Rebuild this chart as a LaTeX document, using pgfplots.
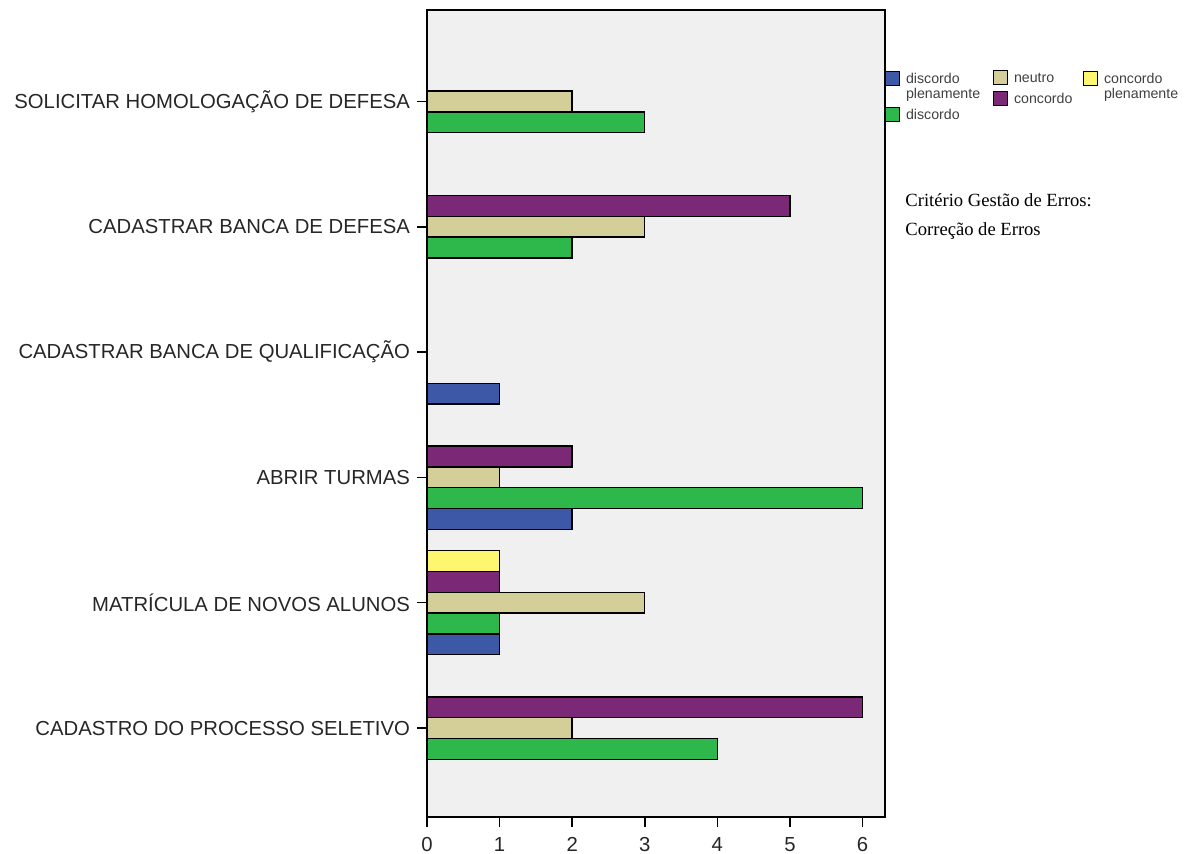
\documentclass[border=0pt]{standalone}
\usepackage{pgfplots}
\pgfplotsset{compat=1.18}
\usepackage{fontspec}
\setmainfont{Liberation Sans}
\newfontfamily\timesfont{Liberation Serif}
\definecolor{cdp}{HTML}{3E58A8}
\definecolor{cd}{HTML}{2EB84B}
\definecolor{cn}{HTML}{D4CE98}
\definecolor{cc}{HTML}{7B2877}
\definecolor{ccp}{HTML}{FDF66E}
\definecolor{bg}{HTML}{F0F0F0}
\pgfplotsset{
  legcol/.style={
    hide axis, scale only axis, width=1pt, height=1pt, anchor=north west,
    xmin=0, xmax=1, ymin=0, ymax=1,
    legend cell align=left,
    legend image code/.code={\draw[##1] (0pt,-2.6pt) rectangle (6.9pt,4.3pt);},
    legend style={at={(0,1)}, anchor=north west, draw=none, fill=none,
      inner sep=0pt, outer sep=0pt,
      font=\fontsize{7.1}{7}\selectfont, text=black!75,
      nodes={inner sep=0pt},
      /tikz/every odd column/.append style={column sep=3pt}},
  },
}
\newcommand{\two}[2]{\vtop{\baselineskip=7.1pt\hbox{#1}\hbox{#2}}}
\newcommand{\legitem}[4]{%
\begin{axis}[legcol, at={(#1pt,#2pt)}]
\addlegendimage{fill=#3, draw=black, line width=0.6pt}
\addlegendentry{#4}
\end{axis}}
\begin{document}
\begin{tikzpicture}[x=1pt,y=1pt]
\useasboundingbox (0,0) rectangle (596,427);
\begin{axis}[
  at={(213.5pt,18.5pt)}, anchor=south west,
  scale only axis, width=229pt, height=403.5pt,
  xbar, bar width=0.166,
  xmin=0, xmax=6.31, ymin=-0.71, ymax=5.73,
  axis background/.style={fill=bg},
  axis line style={line width=0.75pt},
  xtick={0,1,2,3,4,5,6},
  ytick={0,1,2,3,4,5},
  yticklabels={CADASTRO DO PROCESSO SELETIVO, MATRÍCULA DE NOVOS ALUNOS, ABRIR TURMAS, CADASTRAR BANCA DE QUALIFICAÇÃO, CADASTRAR BANCA DE DEFESA, SOLICITAR HOMOLOGAÇÃO DE DEFESA},
  tick style={black, line width=0.75pt},
  major tick length=5pt,
  xtick align=outside, ytick align=outside,
  xtick pos=bottom, ytick pos=left,
  tick label style={font=\fontsize{10.15}{12}\selectfont, text=black!85},
  xticklabel style={yshift=-1.5pt},
  /pgf/number format/assume math mode=true,
  every axis plot/.append style={draw=black, line width=0.7pt},
]
\addplot[fill=cdp, bar shift=-0.332] coordinates {(1,3) (2,2) (1,1)};
\addplot[fill=cd, bar shift=-0.166] coordinates {(3,5) (2,4) (6,2) (1,1) (4,0)};
\addplot[fill=cn, bar shift=0] coordinates {(2,5) (3,4) (1,2) (3,1) (2,0)};
\addplot[fill=cc, bar shift=0.166] coordinates {(5,4) (2,2) (1,1) (6,0)};
\addplot[fill=ccp, bar shift=0.332] coordinates {(1,1)};
\end{axis}
\legitem{442.5}{391.5}{cdp}{\two{discordo}{plenamente}}
\legitem{442.5}{373.5}{cd}{discordo}
\legitem{496.5}{392}{cn}{neutro}
\legitem{496.5}{381.5}{cc}{concordo}
\legitem{541.5}{391.5}{ccp}{\two{concordo}{plenamente}}
\node[anchor=north west, align=left, inner sep=0pt, font=\timesfont\fontsize{9.3}{14.5}\selectfont] at (452.5,330.5) {Critério Gestão de Erros:\\Correção de Erros};
\end{tikzpicture}
\end{document}
